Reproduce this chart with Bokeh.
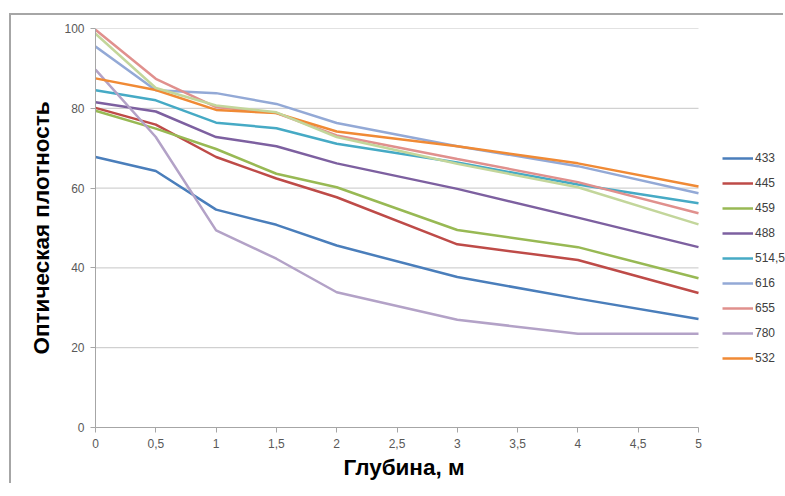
from bokeh.plotting import figure
from bokeh.models import FixedTicker, Range1d, Legend, LegendItem, Title
from bokeh.embed import file_html
from bokeh.resources import INLINE

depth = [0, 0.5, 1, 1.5, 2, 3, 4, 5]
s433 = [67.8, 64.3, 54.6, 50.8, 45.6, 37.7, 32.3, 27.2]
s445 = [80.1, 75.9, 67.8, 62.4, 57.7, 45.9, 42.0, 33.7]
s459 = [79.4, 74.9, 69.8, 63.6, 60.2, 49.5, 45.2, 37.4]
s488 = [81.5, 79.2, 72.8, 70.5, 66.2, 59.8, 52.6, 45.2]
s514 = [84.5, 82.0, 76.4, 75.0, 71.1, 66.4, 60.9, 56.2]
s616 = [95.5, 84.5, 83.8, 81.1, 76.3, 70.5, 65.5, 58.7]
s655 = [99.7, 87.4, 80.3, 78.8, 73.2, 67.3, 61.5, 53.7]
s780 = [89.7, 72.8, 49.4, 42.3, 33.9, 27.0, 23.5, 23.5]
s532 = [87.5, 84.6, 79.6, 78.8, 74.2, 70.5, 66.2, 60.4]
s_extra = [98.7, 85.1, 80.7, 79.0, 72.8, 66.1, 60.2, 50.9]

series_names = ["433", "445", "459", "488", "514,5", "616", "655", "780", "532"]
series_values = [s433, s445, s459, s488, s514, s616, s655, s780, s532]
colors = ["#4a7ebb", "#be4b48", "#98b954", "#7d60a0", "#46aac5",
          "#93a9d6", "#e0908d", "#b3a2c7", "#f08a35"]
extra_color = "#c3d69b"

x_ticks = [0, 0.5, 1, 1.5, 2, 2.5, 3, 3.5, 4, 4.5, 5]
x_tick_labels = ["0", "0,5", "1", "1,5", "2", "2,5", "3", "3,5", "4", "4,5", "5"]
y_ticks = [0, 20, 40, 60, 80, 100]

# plot frame extends under the legend area; data axis spans 0..5 over 603 of 690 px
x_min, x_max = x_ticks[0], x_ticks[-1]
x_view_end = x_max * 690 / 603

p = figure(width=774, height=470, output_backend="svg", toolbar_location=None,
           x_range=Range1d(x_min, x_view_end), y_range=Range1d(0, 100),
           min_border_left=84, min_border_top=13, min_border_bottom=58, min_border_right=0)
p.margin = (13, 0, 0, 9)
p.styles = {"border-left": "2px solid #a6a6a6", "border-top": "2px solid #a6a6a6"}
p.outline_line_color = None
p.background_fill_color = "white"
p.border_fill_color = "white"

p.xgrid.grid_line_color = None
p.ygrid.grid_line_color = None
p.segment(x0=[x_min] * len(y_ticks), y0=y_ticks, x1=[x_max] * len(y_ticks), y1=y_ticks,
          line_color="#c6c6c6", line_width=1)

p.xaxis.ticker = FixedTicker(ticks=x_ticks)
p.xaxis.major_label_overrides = {t: l for t, l in zip(x_ticks, x_tick_labels)}
p.xaxis.bounds = (x_min, x_max)
p.yaxis.ticker = FixedTicker(ticks=y_ticks)
for ax in (p.xaxis, p.yaxis):
    ax.axis_line_color = "#a6a6a6"
    ax.major_tick_line_color = "#a6a6a6"
    ax.major_tick_out = 5
    ax.major_tick_in = 0
    ax.minor_tick_line_color = None
    ax.major_label_text_font = "Liberation Sans"
    ax.major_label_text_font_size = "12px"
    ax.major_label_text_color = "#595959"
    ax.axis_label_text_font = "Liberation Sans"
    ax.axis_label_text_font_style = "bold"
    ax.axis_label_text_font_size = "22.5px"
    ax.axis_label_text_color = "#000000"
p.yaxis.axis_label = "Оптическая плотность"
p.yaxis.axis_label_standoff = 7
p.xaxis.major_label_standoff = 6
p.yaxis.major_label_standoff = 6

x_title = Title(text="Глубина, м", align="left", offset=248, standoff=4,
                text_font="Liberation Sans", text_font_style="bold",
                text_font_size="22.5px", text_color="#000000")
p.add_layout(x_title, "below")

items = []
for name, vals, c in zip(series_names, series_values, colors):
    r = p.line(depth, vals, line_color=c, line_width=2.5)
    items.append(LegendItem(label=name, renderers=[r]))
p.line(depth, s_extra, line_color=extra_color, line_width=2.5)

legend = Legend(items=items, location=(627, 59))
legend.padding = 0
legend.margin = 0
legend.spacing = 5
legend.glyph_width = 31
legend.glyph_height = 20
legend.label_height = 20
legend.label_standoff = 2
legend.label_text_font = "Liberation Sans"
legend.label_text_font_size = "12px"
legend.label_text_color = "#404040"
legend.border_line_color = None
legend.background_fill_alpha = 0
p.add_layout(legend, "center")

open("out.html", "w").write(file_html(p, INLINE))
